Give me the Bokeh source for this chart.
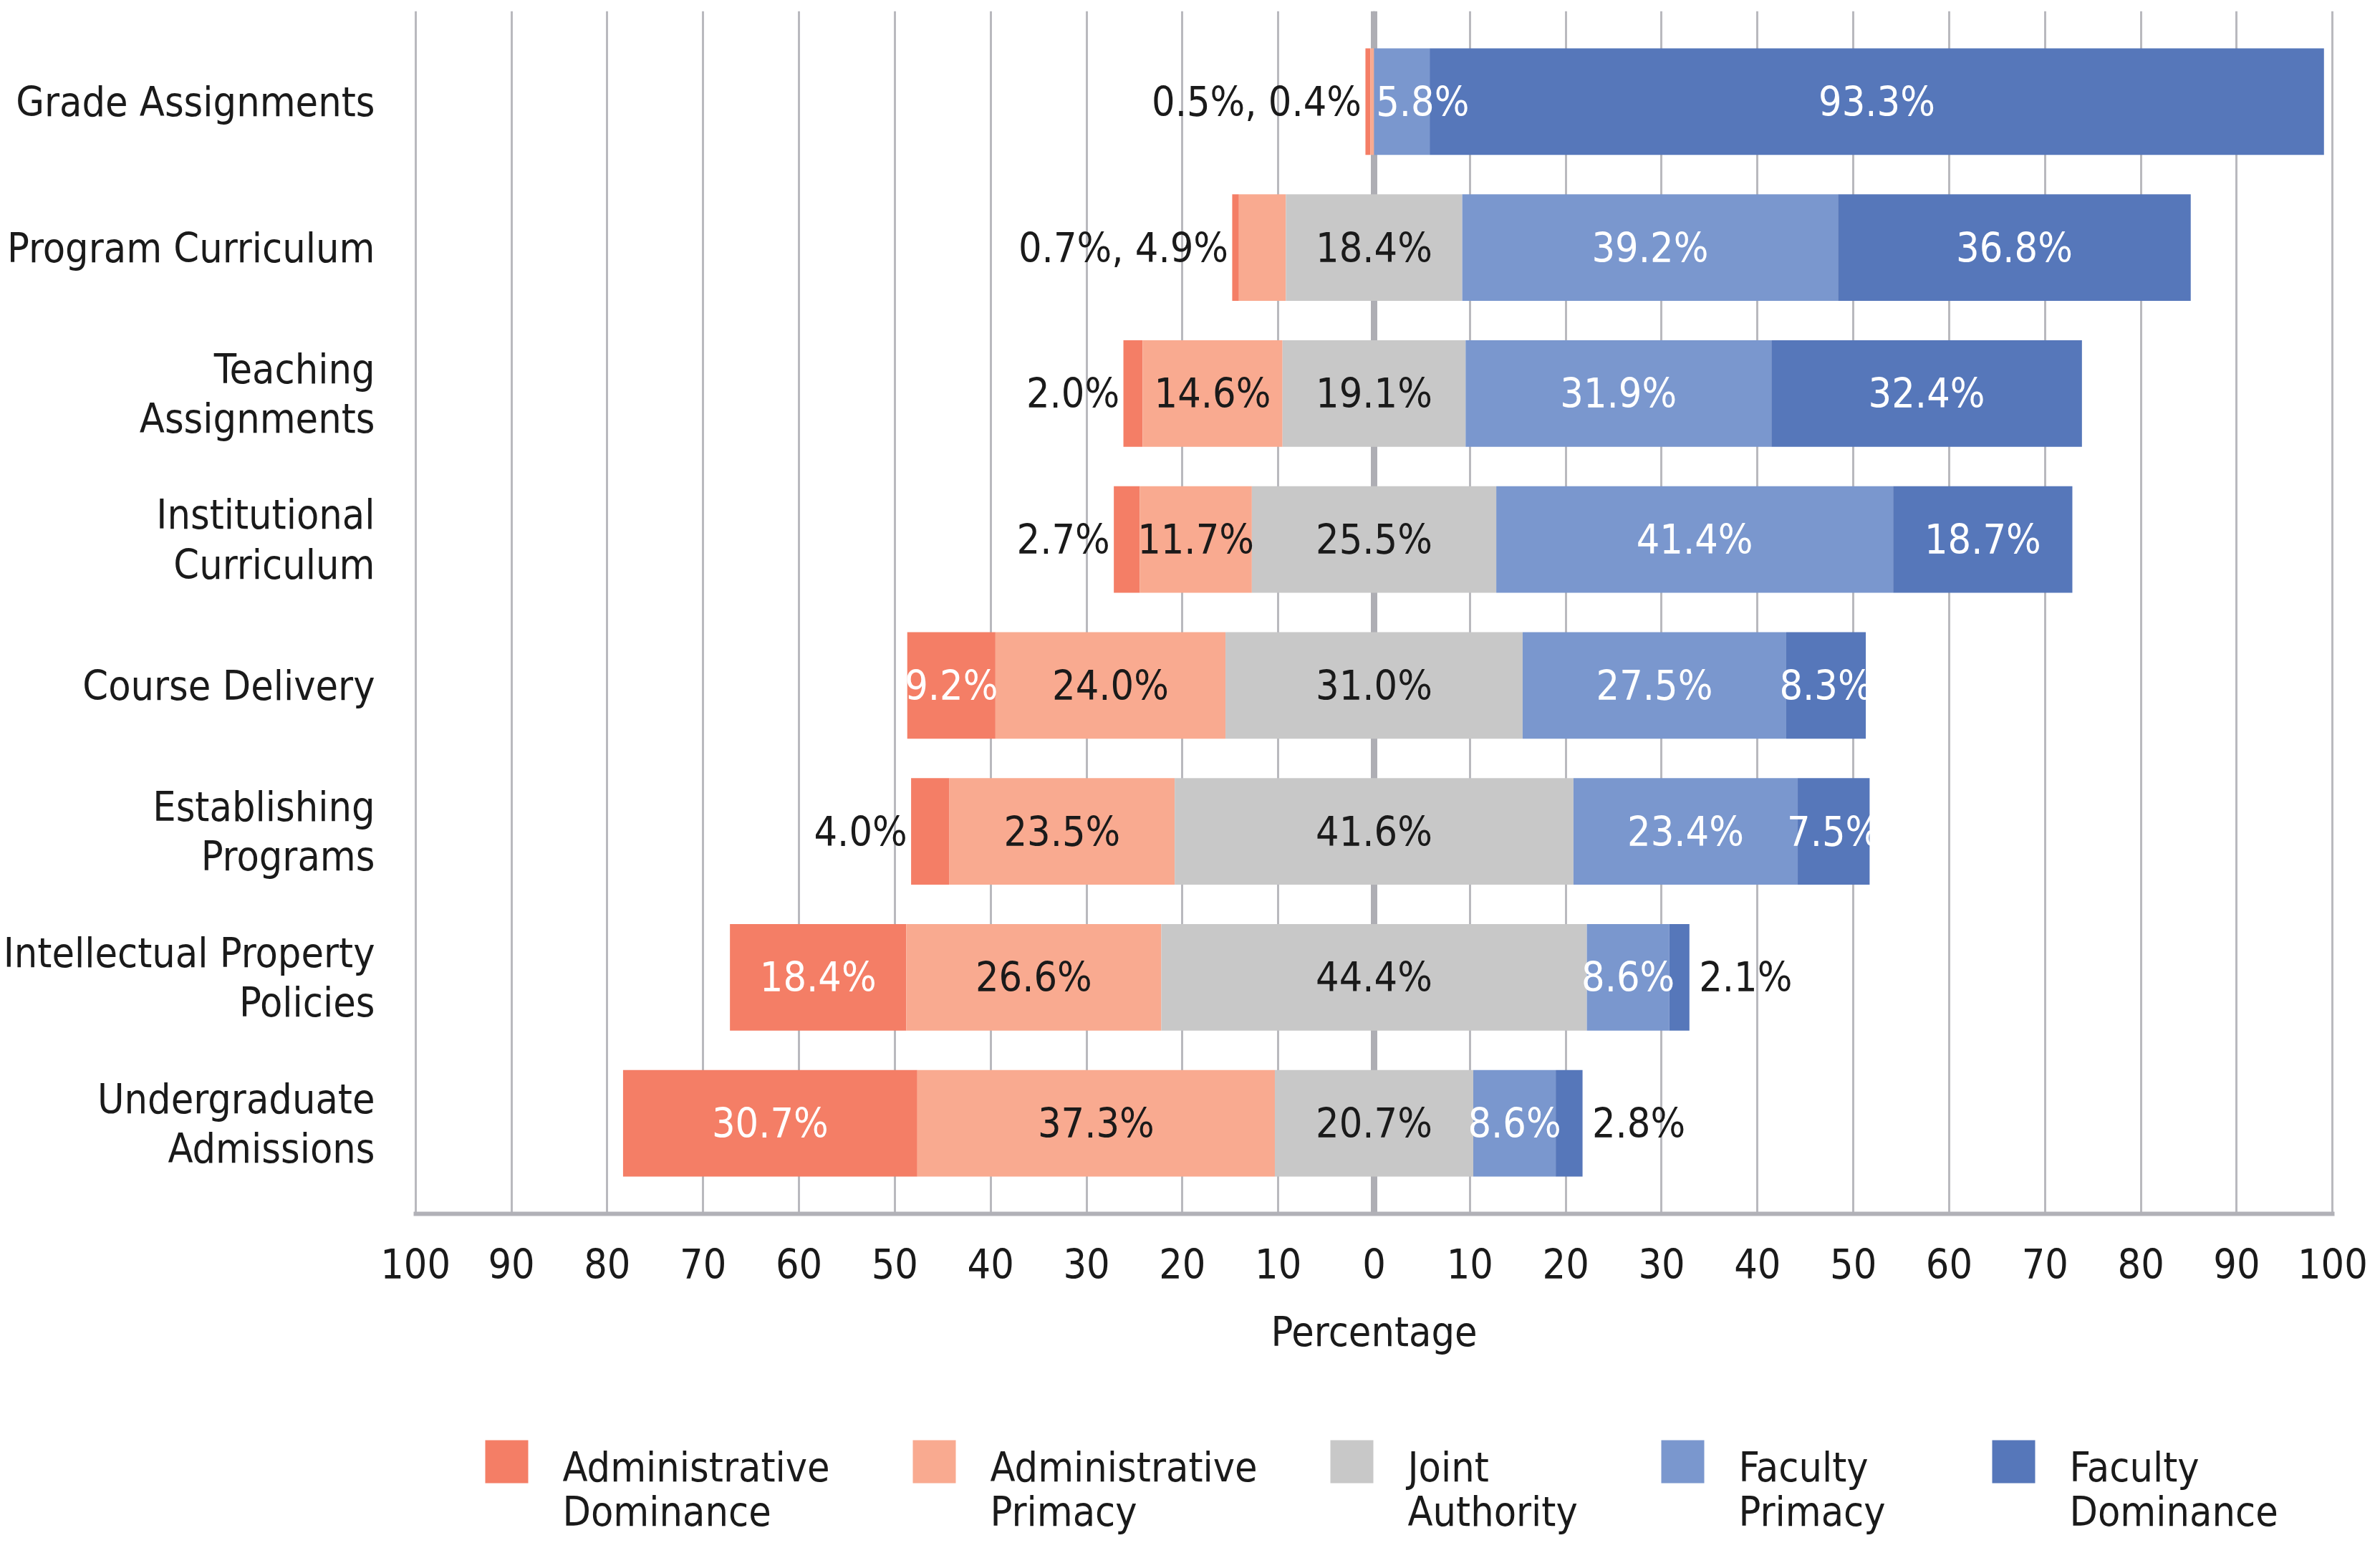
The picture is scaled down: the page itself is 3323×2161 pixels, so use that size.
from bokeh.plotting import figure
from bokeh.layouts import column
from bokeh.models import FactorRange, Range1d, FixedTicker, Span, ColumnDataSource
from bokeh.core.properties import value
from bokeh.embed import file_html
from bokeh.resources import INLINE

# ---------------- data ----------------
categories = [
    "Grade Assignments",
    "Program Curriculum",
    "Teaching\nAssignments",
    "Institutional\nCurriculum",
    "Course Delivery",
    "Establishing\nPrograms",
    "Intellectual Property\nPolicies",
    "Undergraduate\nAdmissions",
]
series_names = [
    "Administrative\nDominance",
    "Administrative\nPrimacy",
    "Joint\nAuthority",
    "Faculty\nPrimacy",
    "Faculty\nDominance",
]
admin_dominance = [0.5, 0.7, 2.0, 2.7, 9.2, 4.0, 18.4, 30.7]
admin_primacy = [0.4, 4.9, 14.6, 11.7, 24.0, 23.5, 26.6, 37.3]
joint_authority = [0.0, 18.4, 19.1, 25.5, 31.0, 41.6, 44.4, 20.7]
faculty_primacy = [5.8, 39.2, 31.9, 41.4, 27.5, 23.4, 8.6, 8.6]
faculty_dominance = [93.3, 36.8, 32.4, 18.7, 8.3, 7.5, 2.1, 2.8]

# which segment labels are written outside the bar (left / right)
outside_left = [[0, 1], [0, 1], [0], [0], [], [0], [], []]
outside_right = [[], [], [], [], [], [], [4], [4]]

tick_values = [-100, -90, -80, -70, -60, -50, -40, -30, -20, -10, 0,
               10, 20, 30, 40, 50, 60, 70, 80, 90, 100]
tick_labels = ["100", "90", "80", "70", "60", "50", "40", "30", "20", "10", "0",
               "10", "20", "30", "40", "50", "60", "70", "80", "90", "100"]

colors = ["#F47E66", "#F9AA90", "#C8C8C8", "#7A97CE", "#5677BA"]
label_colors = ["white", "#1A1A1A", "#1A1A1A", "white", "white"]

FONT = "DejaVu Sans Condensed, Roboto, sans-serif"
FS = "57px"
BLACK = "#1A1A1A"

# ---------------- geometry from data ----------------
series = [admin_dominance, admin_primacy, joint_authority, faculty_primacy, faculty_dominance]
n = len(categories)
bounds = [[None] * n for _ in range(5)]
for i in range(n):
    h = joint_authority[i] / 2.0
    ap_l = -h - admin_primacy[i]
    ad_l = ap_l - admin_dominance[i]
    fp_r = h + faculty_primacy[i]
    fd_r = fp_r + faculty_dominance[i]
    segs = [(ad_l, ap_l), (ap_l, -h), (-h, h), (h, fp_r), (fp_r, fd_r)]
    for k in range(5):
        bounds[k][i] = segs[k]

BL, BR, FW = 577, 48, 2682          # left border, right border, frame width (px)
TOP, FH = 15, 1679
TOTAL_H = 2145
MAIN_H = 1952
p = figure(
    frame_width=FW, frame_height=FH,
    y_range=FactorRange(factors=list(reversed(categories)),
                        range_padding=0.12, range_padding_units="absolute"),
    x_range=Range1d(-100.2, 100.2),
    output_backend="svg", toolbar_location=None,
    min_border_left=BL, min_border_right=BR, min_border_top=TOP,
    min_border_bottom=MAIN_H - TOP - FH,
)
p.outline_line_color = None
p.background_fill_color = "white"

# grid
p.xgrid.ticker = FixedTicker(ticks=tick_values)
p.xgrid.grid_line_color = "#B9B9BE"
p.xgrid.grid_line_width = 3
p.ygrid.grid_line_color = None
p.add_layout(Span(location=0, dimension="height", line_color="#AEAEB4",
                  line_width=9, level="underlay"))

# bars
for k in range(5):
    src = ColumnDataSource(dict(
        y=categories,
        left=[b[0] for b in bounds[k]],
        right=[b[1] for b in bounds[k]],
    ))
    p.hbar(y="y", left="left", right="right", height=0.73, source=src,
           fill_color=colors[k], line_color=None)

# value labels
lab = {"center": dict(x=[], y=[], t=[], c=[]),
       "left": dict(x=[], y=[], t=[], c=[]),
       "right": dict(x=[], y=[], t=[], c=[])}
for i in range(n):
    inside = [k for k in range(5)
              if series[k][i] > 0 and k not in outside_left[i] and k not in outside_right[i]]
    for k in inside:
        x0, x1 = bounds[k][i]
        txt = f"{series[k][i]:.1f}%"
        if x1 - x0 < 7:
            lab["left"]["x"].append(x0 + 0.2)
            lab["left"]["y"].append(categories[i]); lab["left"]["t"].append(txt)
            lab["left"]["c"].append(label_colors[k])
        else:
            lab["center"]["x"].append((x0 + x1) / 2)
            lab["center"]["y"].append(categories[i]); lab["center"]["t"].append(txt)
            lab["center"]["c"].append(label_colors[k])
    if outside_left[i]:
        txt = ", ".join(f"{series[k][i]:.1f}%" for k in outside_left[i])
        lab["right"]["x"].append(bounds[0][i][0] - 0.4)
        lab["right"]["y"].append(categories[i]); lab["right"]["t"].append(txt)
        lab["right"]["c"].append(BLACK)
    if outside_right[i]:
        txt = ", ".join(f"{series[k][i]:.1f}%" for k in outside_right[i])
        lab["left"]["x"].append(bounds[4][i][1] + 1.0)
        lab["left"]["y"].append(categories[i]); lab["left"]["t"].append(txt)
        lab["left"]["c"].append(BLACK)

for align, d in lab.items():
    p.text(x="x", y="y", text="t", text_color="c", source=ColumnDataSource(d),
           text_align=align, text_baseline="middle",
           text_font=value(FONT), text_font_size=FS)

# axes
xa = p.xaxis[0]
xa.ticker = FixedTicker(ticks=tick_values)
xa.major_label_overrides = {v: s for v, s in zip(tick_values, tick_labels)}
xa.axis_line_color = "#B1B1B7"
xa.axis_line_width = 6
xa.major_tick_line_color = None
xa.minor_tick_line_color = None
xa.major_label_standoff = 42
xa.major_label_text_font = FONT
xa.major_label_text_font_size = FS
xa.major_label_text_color = BLACK
xa.axis_label = "Percentage"
xa.axis_label_text_font = FONT
xa.axis_label_text_font_size = FS
xa.axis_label_text_font_style = "normal"
xa.axis_label_text_color = BLACK
xa.axis_label_standoff = 38

ya = p.yaxis[0]
ya.axis_line_color = None
ya.major_tick_line_color = None
ya.minor_tick_line_color = None
ya.major_label_standoff = 48
ya.major_label_text_font = FONT
ya.major_label_text_font_size = FS
ya.major_label_text_color = BLACK
ya.major_label_text_line_height = 1.05

# ---------------- legend (separate strip below the chart) ----------------
LEG_H = TOTAL_H - MAIN_H
leg = figure(
    frame_width=FW, frame_height=LEG_H,
    x_range=Range1d(BL, BL + FW), y_range=Range1d(LEG_H, 0),   # canvas pixel units
    output_backend="svg", toolbar_location=None,
    x_axis_location=None, y_axis_location=None,
    min_border_left=BL, min_border_right=BR, min_border_top=0, min_border_bottom=0,
)
leg.outline_line_color = None
leg.xgrid.grid_line_color = None
leg.ygrid.grid_line_color = None

item_left = [677, 1274, 1857, 2319, 2781]   # layout: left edge of each swatch (px)
sw, sw_top, text_gap = 60, 58, 108
line1_y, line2_y = 95, 157

leg.quad(left=item_left, right=[x + sw for x in item_left],
         top=[sw_top] * 5, bottom=[sw_top + sw] * 5,
         fill_color=colors, line_color=None)
first_lines = [s.split("\n")[0] for s in series_names]
second_lines = [s.split("\n")[1] for s in series_names]
tx = [x + text_gap for x in item_left]
leg.text(x=tx, y=[line1_y] * 5, text=first_lines, text_color=BLACK,
         text_align="left", text_baseline="alphabetic",
         text_font=value(FONT), text_font_size=FS)
leg.text(x=tx, y=[line2_y] * 5, text=second_lines, text_color=BLACK,
         text_align="left", text_baseline="alphabetic",
         text_font=value(FONT), text_font_size=FS)

layout = column(p, leg, spacing=0)
open("out.html", "w").write(file_html(layout, INLINE))
